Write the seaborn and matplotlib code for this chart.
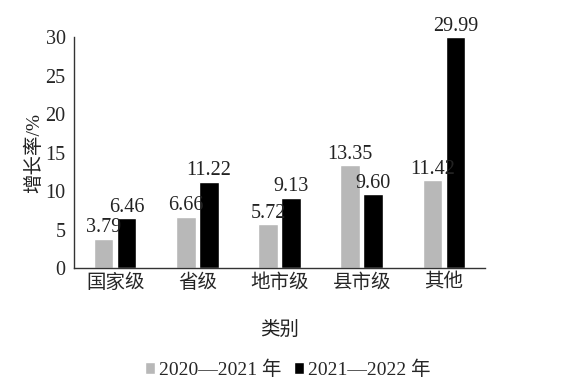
import matplotlib
matplotlib.use("Agg")
import matplotlib.pyplot as plt
import seaborn as sns
import pandas as pd

categories = ["国家级", "省级", "地市级", "县市级", "其他"]
series_names = ["2020—2021 年", "2021—2022 年"]
values_2021 = [3.79, 6.66, 5.72, 13.35, 11.42]
values_2022 = [6.46, 11.22, 9.13, 9.60, 29.99]
colors = ["#b8b8b8", "#000000"]

df = pd.DataFrame({
    "类别": categories * 2,
    "值": values_2021 + values_2022,
    "系列": [series_names[0]] * len(categories) + [series_names[1]] * len(categories),
})

sns.set_theme(style="white")
plt.rcParams["font.family"] = ["Liberation Serif", "Noto Sans CJK SC", "DejaVu Sans"]
plt.rcParams["axes.unicode_minus"] = False

fig = plt.figure(figsize=(5.62, 3.9), dpi=100)
ax = fig.add_axes([0.1317, 0.3128, 0.7313, 0.5922])

sns.barplot(data=df, x="类别", y="值", hue="系列", palette=colors, ax=ax,
            width=0.56, gap=0.15, saturation=1, legend=True)

for cont in ax.containers:
    ax.bar_label(cont, labels=[f"{v:.2f}" for v in cont.datavalues],
                 padding=1, fontsize=14.5, color="#222222")

ax.set_ylim(0, 30)
ax.set_xlim(-0.5, 4.5)
ax.set_yticks([0, 5, 10, 15, 20, 25, 30])
ax.tick_params(axis="y", direction="in", length=4, width=1, labelsize=14.5, color="#333333", pad=6)
ax.tick_params(axis="x", length=0, labelsize=14, pad=4)
for s in ["top", "right"]:
    ax.spines[s].set_visible(False)
for s in ["left", "bottom"]:
    ax.spines[s].set_color("#333333")
    ax.spines[s].set_linewidth(1)

ax.set_xlabel("类别", fontsize=14, labelpad=21, color="#222222")
ax.set_ylabel("增长率/%", fontsize=14, labelpad=2, color="#222222")

ax.legend(loc="center", bbox_to_anchor=(0.52, -0.44), ncol=2, frameon=False,
          fontsize=14, handlelength=0.55, handleheight=0.55, handletextpad=0.2,
          columnspacing=0.6)

fig.savefig("out.png", dpi=100)
